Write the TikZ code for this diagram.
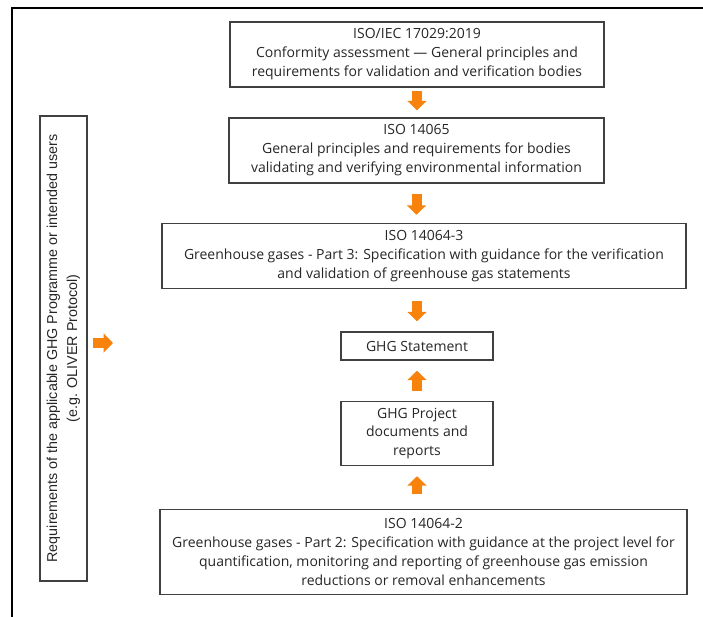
\documentclass[tikz,border=0pt]{standalone}
\usepackage{fontspec}
\usepackage{tikz}
\usetikzlibrary{positioning, arrows.meta, calc}
\newfontfamily\boxfont{Open Sans}
\newfontfamily\reqfont{Liberation Sans}
\definecolor{ghgorange}{RGB}{247,130,12}
\definecolor{boxgray}{RGB}{64,64,64}
\definecolor{textgray}{RGB}{38,38,38}

\begin{document}
\begin{tikzpicture}[x=0.75pt, y=-0.75pt,
    stdbox/.style={draw=boxgray, line width=1.1pt, rectangle, align=center, inner sep=0pt,
                   text=textgray, font=\boxfont\fontsize{10.5}{14.25}\selectfont},
    reqbox/.style={draw=boxgray, line width=1.1pt, rectangle, align=center, inner sep=0pt,
                   text=textgray, rotate=90, font=\reqfont\fontsize{10.75}{15}\selectfont},
    blockarrow/.style={draw=ghgorange, line width=7.5pt, -{Triangle[length=7pt, width=14pt]}}]
                \useasboundingbox (0,0) rectangle (703,617);

                % Frame, only its top and left sides show
                \coordinate (frameBL) at (12,640);
                \coordinate (frameTL) at (12,8);
                \coordinate (frameTR) at (720,8);
                \draw[line width=1.5pt, black] (frameBL) -- (frameTL) -- (frameTR);

                % Standards and documents
                \node[stdbox, minimum width=280.5pt, minimum height=48.75pt] (iec) at (417,54.5)
                    {ISO/IEC 17029:2019\\Conformity assessment \textemdash{} General principles and\\requirements for validation and verification bodies};
                \node[stdbox, minimum width=281.25pt, minimum height=48.75pt] (iso65) at (416.5,150.5)
                    {ISO 14065\\General principles and requirements for bodies\\validating and verifying environmental information};
                \node[stdbox, minimum width=393pt, minimum height=48.75pt] (iso643) at (424,256)
                    {ISO 14064-3\\Greenhouse gases - Part 3: Specification with guidance for the verification\\and validation of greenhouse gas statements};
                \node[stdbox, minimum width=114pt, minimum height=21pt] (stmt) at (417,346)
                    {GHG Statement};
                \node[stdbox, minimum width=114pt, minimum height=48pt, font=\boxfont\fontsize{10.5}{13.9}\selectfont] (docs) at (417,433.5)
                    {GHG Project\\documents and\\reports};
                \node[stdbox, minimum width=395.25pt, minimum height=63.75pt] (iso642) at (423.5,552)
                    {ISO 14064-2\\Greenhouse gases - Part 2: Specification with guidance at the project level for\\quantification, monitoring and reporting of greenhouse gas emission\\reductions or removal enhancements};

                % Programme requirements
                \node[reqbox, minimum width=348.75pt, minimum height=35.25pt] (req) at (63.5,348.5)
                    {Requirements of the applicable GHG Programme or intended users\\(e.g. OLIVER Protocol)};
                \coordinate (reqin) at (113,343);

                % Orange arrows
                \draw[blockarrow, shorten <=2.25pt, shorten >=5.25pt] (iec.south) -- (iec.south |- iso65.north);
                \draw[blockarrow, shorten <=7.5pt, shorten >=6pt] (iso65.south) -- (iso65.south |- iso643.north);
                \draw[blockarrow, shorten <=9pt, shorten >=7.5pt] (stmt.north |- iso643.south) -- (stmt.north);
                \draw[blockarrow, shorten <=7.5pt, shorten >=7.5pt] (docs.north) -- (stmt.south);
                \draw[blockarrow, shorten <=11.25pt, shorten >=7.5pt] (docs.south |- iso642.north) -- (docs.south);
                \draw[blockarrow, shorten <=3.75pt] (req.south |- reqin) -- (reqin);
\end{tikzpicture}
\end{document}
